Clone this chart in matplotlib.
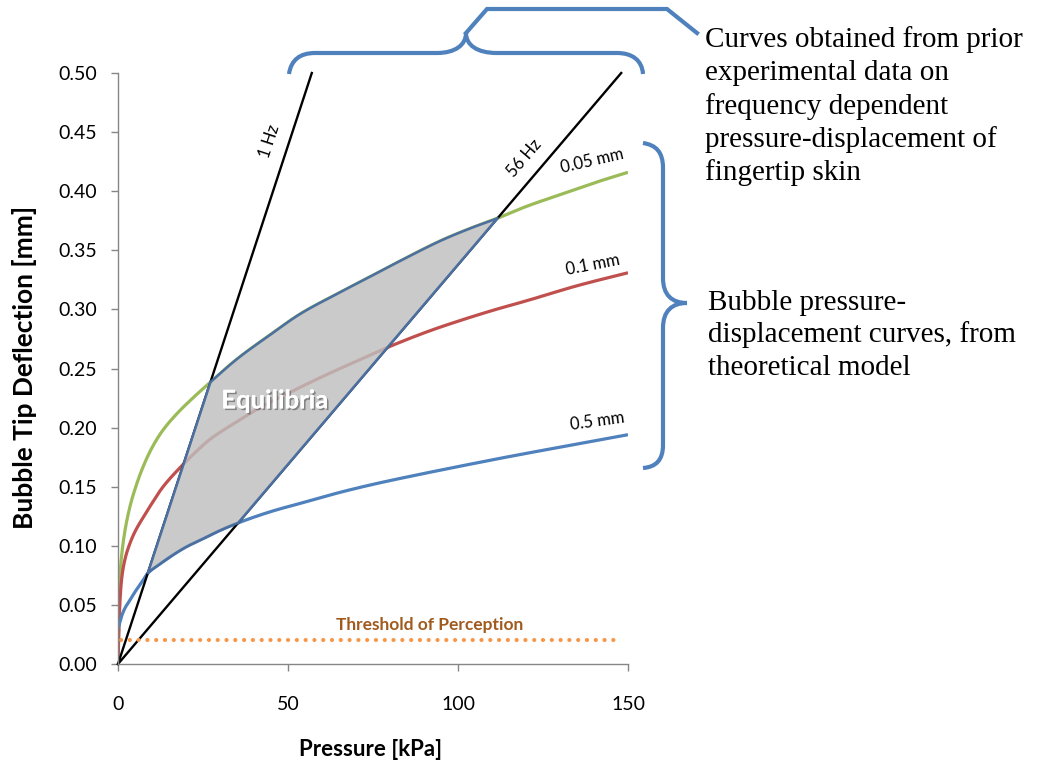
import numpy as np
import matplotlib
matplotlib.use('Agg')
import matplotlib.pyplot as plt
from matplotlib.path import Path
from matplotlib.patches import PathPatch, Polygon
import matplotlib.patheffects as pe

# ---------------- data ----------------
pressure_green = [0, 0.3, 0.6, 1, 2, 3.5, 5, 7.4, 10, 13, 17.4, 22, 27, 35, 45, 53.5,
                  65, 75, 85, 95.6, 104, 111.5, 120, 131, 140, 150]
defl_green = [0.0, 0.05, 0.075, 0.09, 0.112, 0.133, 0.148, 0.167, 0.183, 0.197, 0.212,
              0.225, 0.238, 0.258, 0.279, 0.296, 0.314, 0.329, 0.344, 0.359, 0.369,
              0.377, 0.387, 0.398, 0.407, 0.416]

pressure_red = [0, 0.3, 1, 2, 3.5, 5, 7.4, 10, 13, 18.2, 22, 27, 35, 41.8, 50, 60, 70,
                79.4, 91.8, 100, 110, 121, 135, 150]
defl_red = [0.0, 0.035, 0.07, 0.088, 0.102, 0.112, 0.124, 0.136, 0.149, 0.166, 0.177,
            0.190, 0.205, 0.217, 0.229, 0.243, 0.256, 0.268, 0.282, 0.290, 0.299,
            0.308, 0.320, 0.331]

pressure_blue = [0, 0.5, 1, 2, 3.5, 5, 7.4, 8.5, 12, 16, 20, 25, 30, 35, 45, 55, 65, 75,
                 83, 100, 116, 133, 150]
defl_blue = [0.03, 0.035, 0.04, 0.047, 0.054, 0.061, 0.071, 0.076, 0.084, 0.092, 0.099,
             0.106, 0.113, 0.119, 0.129, 0.137, 0.145, 0.152, 0.157, 0.167, 0.176,
             0.185, 0.194]

curve_labels = ['0.05 mm', '0.1 mm', '0.5 mm']
curve_colors = ['#9BBB59', '#C0504D', '#4F81BD']

freq_labels = ['1 Hz', '56 Hz']
freq_pressure = [[0, 57], [0, 148]]
freq_defl = [[0, 0.50], [0, 0.50]]

threshold_pressure = [1, 148]
threshold_defl = [0.02, 0.02]

x_ticks = [0, 50, 100, 150]
y_ticks = [0.00, 0.05, 0.10, 0.15, 0.20, 0.25, 0.30, 0.35, 0.40, 0.45, 0.50]

W, H = 1039, 768
FONT = 'Lato'


def pchip(x, y, xn):
    """Smooth monotone (Excel-like smoothed) rendering through the read points."""
    x = np.asarray(x, float)
    y = np.asarray(y, float)
    h = np.diff(x)
    dl = np.diff(y) / h
    n = len(x)
    d = np.zeros(n)
    for k in range(1, n - 1):
        if dl[k - 1] * dl[k] > 0:
            w1 = 2 * h[k] + h[k - 1]
            w2 = h[k] + 2 * h[k - 1]
            d[k] = (w1 + w2) / (w1 / dl[k - 1] + w2 / dl[k])
    d[0] = dl[0]
    d[-1] = dl[-1]
    idx = np.clip(np.searchsorted(x, xn) - 1, 0, n - 2)
    t = (xn - x[idx]) / h[idx]
    h00 = 2 * t**3 - 3 * t**2 + 1
    h10 = t**3 - 2 * t**2 + t
    h01 = -2 * t**3 + 3 * t**2
    h11 = t**3 - t**2
    return h00 * y[idx] + h10 * h[idx] * d[idx] + h01 * y[idx + 1] + h11 * h[idx] * d[idx + 1]


fig = plt.figure(figsize=(W / 100, H / 100), dpi=100)
ax = fig.add_axes([118 / W, 1 - 664 / H, 510 / W, 591 / H])
ax.set_xlim(0, 150)
ax.set_ylim(0, 0.5)

xg = np.concatenate([np.linspace(0, 2, 401), np.linspace(2.005, 150, 6000)])

# curves
smooth = []
for px, dy, c in zip([pressure_green, pressure_red, pressure_blue],
                     [defl_green, defl_red, defl_blue], curve_colors):
    ys = pchip(px, dy, xg)
    smooth.append(ys)
    ax.plot(xg, ys, color=c, lw=2.3, zorder=2, solid_capstyle='butt')

# frequency lines
for px, dy in zip(freq_pressure, freq_defl):
    ax.plot(px, dy, color='black', lw=1.7, zorder=2, clip_on=False)

# threshold
ax.plot(threshold_pressure, threshold_defl, color='#F79646', lw=3.0,
        linestyle=(0, (0.01, 2.1)), dash_capstyle='round', zorder=2)
ax.text(91.8, 0.033, 'Threshold of Perception', color='#A05A1E', fontsize=12.5,
        fontfamily=FONT, fontweight='bold', ha='center', va='center')

# equilibria polygon
g = smooth[0]
b = smooth[2]
s1 = freq_defl[0][1] / freq_pressure[0][1]
s56 = freq_defl[1][1] / freq_pressure[1][1]
l1 = s1 * xg
l56 = s56 * xg


def first_cross(line, curve, start=0.5):
    return np.where((line >= curve) & (xg > start))[0][0]


i_g1 = first_cross(l1, g)
i_b1 = first_cross(l1, b)
i_g56 = first_cross(l56, g)
i_b56 = first_cross(l56, b)

poly = [(xg[i_b1], l1[i_b1]), (xg[i_g1], l1[i_g1])]
for k in range(i_g1, i_g56 + 1, 5):
    poly.append((xg[k], g[k]))
poly.append((xg[i_g56], l56[i_g56]))
poly.append((xg[i_b56], l56[i_b56]))
for k in range(i_b56, i_b1 - 1, -5):
    poly.append((xg[k], b[k]))
poly = np.array(poly)
ax.add_patch(Polygon(poly, closed=True, facecolor='#BFBFBF', alpha=0.82,
                     edgecolor='none', zorder=3))
ax.add_patch(Polygon(poly, closed=True, facecolor='none', edgecolor='#4A6FA0',
                     lw=1.8, zorder=4, joinstyle='round'))

ax.text(46.2, 0.223, 'Equilibria', color='white', fontsize=18.5, fontfamily=FONT,
        fontweight='bold', ha='center', va='center', zorder=5,
        path_effects=[pe.withSimplePatchShadow(offset=(1.2, -1.2),
                                               shadow_rgbFace='#555555', alpha=0.6),
                      pe.Normal()])

# line labels
lab_kw = dict(fontsize=12, fontfamily=FONT, ha='center', va='center',
              rotation_mode='anchor')
ax.text(44.5, 0.442, freq_labels[0], rotation=71.8, **lab_kw)
ax.text(119.5, 0.428, freq_labels[1], rotation=49.5, **lab_kw)
ax.text(139.4, 0.426, curve_labels[0], rotation=13, **lab_kw)
ax.text(139.7, 0.3376, curve_labels[1], rotation=11, **lab_kw)
ax.text(140.9, 0.205, curve_labels[2], rotation=8, **lab_kw)

# axes styling
for sp in ['top', 'right']:
    ax.spines[sp].set_visible(False)
for sp in ['left', 'bottom']:
    ax.spines[sp].set_color('#868686')
    ax.spines[sp].set_linewidth(1.0)
ax.set_xticks(x_ticks)
ax.set_yticks(y_ticks)
ax.set_yticklabels([f'{v:.2f}' for v in y_ticks])
ax.tick_params(axis='both', direction='out', length=5, width=1.0, color='#868686',
               labelsize=14)
ax.tick_params(axis='x', pad=18)
ax.tick_params(axis='y', pad=10)
for lab in ax.get_xticklabels() + ax.get_yticklabels():
    lab.set_fontfamily(FONT)
ax.set_xlabel('Pressure [kPa]', fontsize=16, fontweight='bold', fontfamily=FONT)
ax.set_ylabel('Bubble Tip Deflection [mm]', fontsize=19, fontweight='bold',
              fontfamily=FONT)
ax.xaxis.set_label_coords((371 - 118) / 510, (664 - 750) / 591)
ax.yaxis.set_label_coords((25 - 118) / 510, (664 - 367) / 591)
ax.xaxis.label.set_va('center')
ax.yaxis.label.set_va('center')

# overlay for braces and annotations (pixel coordinates)
ov = fig.add_axes([0, 0, 1, 1], zorder=10)
ov.set_xlim(0, W)
ov.set_ylim(H, 0)
ov.axis('off')
ov.patch.set_alpha(0)

BR = '#4F81BD'
M, L, C = Path.MOVETO, Path.LINETO, Path.CURVE4
top_verts = [(289, 74), (291, 60), (300, 53), (315, 53), (437, 53),
             (455, 53), (466, 45), (466, 33),
             (466, 45), (477, 53), (497, 53), (617, 53),
             (632, 53), (642, 60), (643, 74)]
top_codes = [M, C, C, C, L, C, C, C, C, C, C, L, C, C, C]
ov.add_patch(PathPatch(Path(top_verts, top_codes), facecolor='none', edgecolor=BR,
                       lw=3, capstyle='butt'))
ov.plot([466, 487, 667, 697], [33, 9, 9, 33], color=BR, lw=3, solid_joinstyle='miter')

right_verts = [(643, 143), (656, 145), (663, 152), (663, 168), (663, 278),
               (663, 295), (672, 303), (687, 303),
               (672, 303), (663, 311), (663, 328), (663, 445),
               (663, 460), (656, 467), (643, 468)]
right_codes = [M, C, C, C, L, C, C, C, C, C, C, L, C, C, C]
ov.add_patch(PathPatch(Path(right_verts, right_codes), facecolor='none', edgecolor=BR,
                       lw=3, capstyle='butt'))

note1 = ['Curves obtained from prior', 'experimental data on', 'frequency dependent',
         'pressure-displacement of', 'fingertip skin']
for i, line in enumerate(note1):
    ov.text(705, 47 + i * 33.3, line, fontfamily='Liberation Serif', fontsize=21,
            ha='left', va='baseline')
note2 = ['Bubble pressure-', 'displacement curves, from', 'theoretical model']
for i, line in enumerate(note2):
    ov.text(708, 310 + i * 32.5, line, fontfamily='Liberation Serif', fontsize=21,
            ha='left', va='baseline')

fig.savefig('out.png', dpi=100)
